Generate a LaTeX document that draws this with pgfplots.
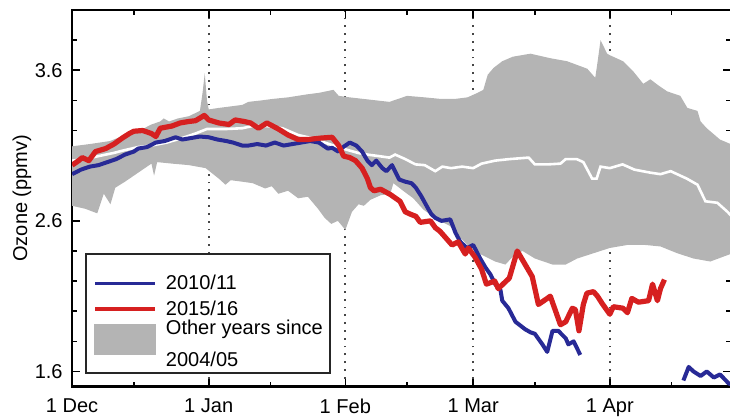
\documentclass[border=0pt]{standalone}
\usepackage{fontspec}
\setmainfont{Liberation Sans}
\usepackage{pgfplots}
\pgfplotsset{compat=1.18}
\usepgfplotslibrary{fillbetween}
\definecolor{oblue}{RGB}{40,42,150}
\definecolor{ored}{RGB}{214,32,32}
\definecolor{ogrey}{RGB}{180,180,180}
\definecolor{ogrid}{RGB}{70,70,70}

\pgfplotstableread{
x y
0 3.095
4 3.11
8.6 3.13
12 3.17
15 3.195
18 3.24
20 3.26
20.8 3.28
22 3.26
24 3.28
26.5 3.295
29 3.33
29.6 3.45
30.1 3.58
30.6 3.40
31 3.34
33.3 3.35
36 3.36
38.6 3.37
40 3.39
43 3.40
45.6 3.41
49 3.42
53.3 3.44
56 3.45
59.3 3.47
60.5 3.43
63 3.42
66 3.41
69 3.40
72 3.39
74 3.41
76 3.43
80 3.42
83.5 3.41
87 3.41
89.7 3.42
92 3.45
93.3 3.47
94.3 3.57
95.6 3.615
97.6 3.66
100 3.69
104 3.71
108.5 3.68
112.3 3.66
116.9 3.61
118.7 3.55
119.2 3.65
119.9 3.80
121.4 3.71
122 3.70
125 3.66
127.4 3.59
129.6 3.51
131.2 3.54
133 3.50
135 3.46
138 3.43
139.6 3.35
141.9 3.33
142.6 3.26
144 3.215
147 3.14
149.4 3.11
150 3.10
}\tblupper

\pgfplotstableread{
x y
0 2.70
3 2.68
5.7 2.65
7.2 2.78
8.7 2.71
9.8 2.82
12 2.86
15 2.92
18 2.98
18.6 2.90
19.3 2.99
22.7 2.98
26.5 2.97
30.3 2.95
33.3 2.88
34.8 2.84
36 2.87
38.6 2.86
41 2.85
43.8 2.815
45.3 2.83
46.8 2.78
49 2.80
51.3 2.75
53.5 2.76
55.8 2.68
57.3 2.62
58.8 2.58
60.3 2.60
62 2.54
63.5 2.66
65 2.71
66.2 2.70
67.7 2.74
70 2.77
72.2 2.78
72.9 2.85
75.1 2.80
77.4 2.75
79.7 2.675
82.8 2.61
85.8 2.565
88 2.49
90.4 2.42
92.6 2.38
96 2.33
98.3 2.31
100.6 2.38
102.2 2.40
105 2.35
109 2.31
112 2.31
114.6 2.35
118.3 2.385
122 2.42
126 2.44
130 2.44
133.5 2.43
137.3 2.385
141 2.35
144.8 2.33
149.4 2.38
150 2.38
}\tbllower

\pgfplotstableread{
x y
0 3.00
3 3.01
6 3.03
9.3 3.05
12 3.07
15 3.09
18 3.10
21.5 3.12
25 3.15
28 3.18
30.6 3.21
33 3.21
35 3.21
38.6 3.215
41 3.23
44 3.23
47.7 3.215
51.3 3.17
54.3 3.15
58.3 3.11
62 3.075
65 3.05
67 3.04
69.6 3.03
72 3.02
73.3 3.04
75.6 3.01
77.9 2.975
80 2.97
82.4 2.93
84 2.96
86 2.95
88.5 2.96
91 2.95
92.9 2.98
96 3.00
99.2 3.01
103.6 3.02
105 2.975
108 2.975
110.8 2.98
112 3.01
114.5 3.01
116 2.99
118 2.88
119 2.88
119.9 2.96
122 2.95
124.9 2.975
127.6 2.94
131.2 2.92
133.5 2.91
135.8 2.93
139.5 2.88
141.9 2.84
143.7 2.73
146.4 2.72
148.7 2.66
150 2.62
}\tblmedian

\pgfplotstableread{
x y
0 2.91
2 2.94
4 2.96
6 2.97
8 2.99
10 3.01
12 3.04
14 3.06
15 3.08
17 3.09
19 3.12
21 3.13
23.5 3.155
25 3.14
27 3.15
29 3.16
31 3.155
33 3.14
35 3.13
36.5 3.12
38.6 3.10
40 3.10
42 3.11
44 3.10
46 3.12
48 3.10
50 3.11
52 3.12
54 3.13
56 3.12
58 3.08
59 3.085
60.4 3.06
61.5 3.09
63 3.12
64.5 3.10
65.8 3.06
67 3.00
68 2.97
69 3.00
70.4 2.95
71.3 2.93
72.6 2.97
74.2 2.875
75.6 2.86
77 2.85
78 2.82
79.2 2.765
80.8 2.68
81.5 2.645
82.4 2.62
83.8 2.60
85.8 2.61
87 2.52
88.1 2.46
89.6 2.42
91 2.44
92.6 2.35
93.8 2.29
94.9 2.245
96 2.18
97.2 2.14
97.6 2.07
99 2.02
100.6 1.93
102.8 1.88
104 1.86
105 1.85
106.7 1.78
107.8 1.73
109 1.87
110.3 1.87
112 1.82
112.6 1.78
113.8 1.80
115.3 1.71
}\tblblueA

\pgfplotstableread{
x y
138.7 1.54
139.9 1.63
141 1.60
142.6 1.57
144 1.60
145.6 1.56
147 1.58
149 1.52
150 1.51
}\tblblueB

\pgfplotstableread{
x y
0 2.97
1.5 3.00
2.3 3.02
3.8 3.00
5.3 3.06
7.6 3.08
9.5 3.11
11.4 3.15
13 3.18
14 3.195
16 3.20
18 3.18
19 3.16
20 3.215
22.7 3.23
24.5 3.25
26.5 3.26
28 3.265
30 3.30
31 3.27
33.3 3.25
35.6 3.24
37 3.27
39 3.26
40.5 3.25
42.3 3.215
44.2 3.25
46.8 3.21
49 3.17
51.3 3.14
53.5 3.14
55 3.145
56.6 3.15
59 3.155
60.5 3.10
61.6 3.03
63 3.02
64.3 3.00
65.8 2.95
67 2.88
67.7 2.82
68.5 2.80
70 2.81
72.2 2.775
74.4 2.73
75.6 2.66
76.7 2.645
78 2.63
79 2.59
81.3 2.60
82.4 2.555
83.5 2.53
84.7 2.49
86.2 2.44
87.6 2.46
89.2 2.38
89.9 2.42
91.4 2.36
92.9 2.28
94.0 2.18
95.9 2.20
96.7 2.15
99.2 2.22
101 2.40
102.8 2.31
104.4 2.23
105.8 2.045
107.8 2.085
108.5 2.10
110.8 1.91
112 1.93
113.5 2.02
114.2 2.01
115 1.87
116 2.045
116.8 2.12
118.3 2.13
119.2 2.10
120.3 2.05
122 1.98
122.8 2.03
125 2.02
126 1.99
127 2.085
128.5 2.06
130.8 2.07
131.7 2.18
132.8 2.07
133.5 2.15
134.4 2.21
}\tblredA

\begin{document}
\begin{tikzpicture}
\begin{axis}[
  set layers,
  scale only axis, width=329pt, height=188pt,
  at={(0,0)}, anchor=south west,
  xmin=0, xmax=149.5, ymin=1.5, ymax=4.0,
  xtick={0,31,62,91,122},
  xticklabels={1 Dec,1 Jan,1 Feb,1 Mar,1 Apr},
  minor xtick={14,45,76,105,136},
  ytick={1.6,2.6,3.6},
  yticklabels={1.6,2.6,3.6},
  minor ytick={1.8,2.0,2.2,2.4,2.8,3.0,3.2,3.4,3.8},
  major tick length=4pt, minor tick length=2.5pt,
  every tick/.style={black, line width=0.8pt},
  axis line style={line width=1.1pt},
  xmajorgrids,
  grid style={ogrid, line width=0.9pt, dash pattern=on 0.9pt off 3pt},
  tick label style={font=\fontsize{10}{12}\selectfont},
  xticklabel style={yshift=-2.5pt},
  yticklabel style={xshift=-1.2pt},
  ylabel={Ozone (ppmv)},
  every axis y label/.style={at={([xshift=-25pt]axis description cs:0,0.5)}, rotate=90, anchor=center, font=\fontsize{10}{12}\selectfont},
  legend cell align=left,
  legend style={at={(axis description cs:0,0)}, anchor=south west,
    xshift=6.5pt, yshift=6.5pt, draw=black!85, line width=0.9pt, fill=white,
    inner xsep=3.5pt, inner ysep=1.8pt, nodes={inner sep=0pt},
    column sep=4.2pt, row sep=-1.8pt, font=\fontsize{10}{12}\selectfont},
]
\addlegendimage{legend image code/.code={\path (0pt,12.4pt); \draw[oblue,line width=1.6pt] (0pt,0pt) -- (30pt,0pt);}}
\addlegendentry[text height=10.3pt,text depth=4.5pt]{2010/11}
\addlegendimage{legend image code/.code={\draw[ored,line width=2.2pt] (0pt,0pt) -- (30pt,0pt);}}
\addlegendentry[text height=10.3pt,text depth=4.5pt]{2015/16}
\addlegendimage{legend image code/.code={\fill[ogrey] (0pt,-4.75pt) rectangle (30pt,9.75pt);}}
\addlegendentry[align=left]{Other years since\\[3.5pt]2004/05}

\addplot[name path=U, draw=none, forget plot] table[x=x,y=y] {\tblupper};
\addplot[name path=L, draw=none, forget plot] table[x=x,y=y] {\tbllower};
\addplot[ogrey, forget plot, on layer=axis background] fill between[of=U and L];
\addplot[white, line width=1.3pt, forget plot] table[x=x,y=y] {\tblmedian};
\addplot[oblue, line width=2pt, line join=round, forget plot] table[x=x,y=y] {\tblblueA};
\addplot[oblue, line width=2pt, line join=round, forget plot] table[x=x,y=y] {\tblblueB};
\addplot[ored, line width=2.6pt, line join=round, forget plot] table[x=x,y=y] {\tblredA};
\end{axis}
\pgfresetboundingbox
\path[use as bounding box] (-36pt,-16pt) rectangle (328.5pt,193pt);
\end{tikzpicture}
\end{document}
